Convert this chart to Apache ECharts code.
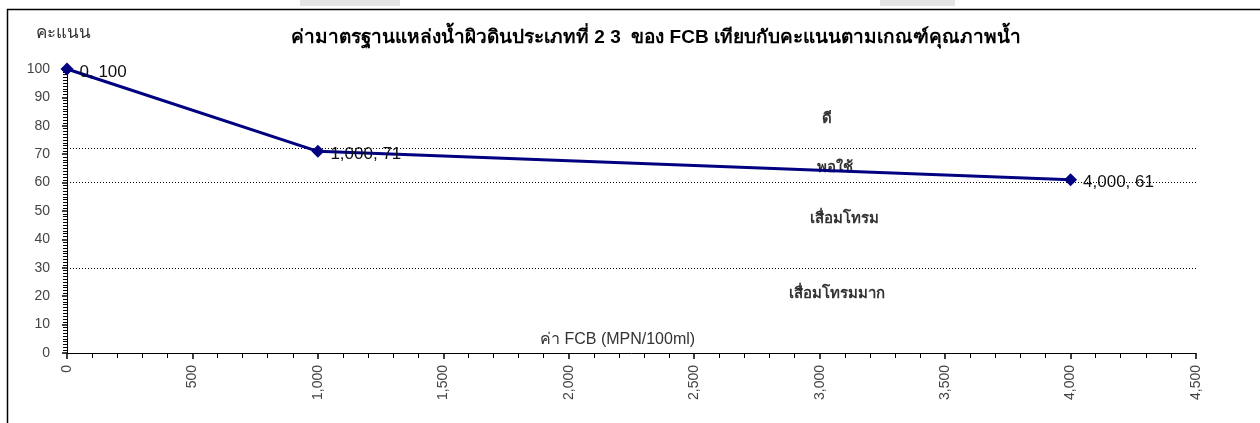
<!DOCTYPE html>
<html>
<head>
<meta charset="utf-8">
<script src="https://cdn.jsdelivr.net/npm/echarts@6/dist/echarts.min.js"></script>
<style>
  html, body { margin: 0; padding: 0; background: #fff; }
  #main { width: 1260px; height: 423px; }
</style>
</head>
<body>
<div id="main"></div>
<script>
  // data
  let fcbValues = [0, 1000, 4000]
  let scores = [100, 71, 61]
  let thresholds = [72, 60, 30]
  let bandNames = ['ดี', 'พอใช้', 'เสื่อมโทรม', 'เสื่อมโทรมมาก']
  let bandY = [82.5, 65.3, 47.4, 21]
  let bandX = [3030, 3060, 3100, 3070]

  let font = 'Tahoma, "Liberation Sans", "Noto Sans", sans-serif'
  let chart = echarts.init(document.getElementById('main'))

  let points = fcbValues.map(function (x, i) { return [x, scores[i]] })
  let bands = bandNames.map(function (n, i) { return { name: n, value: [bandX[i], bandY[i]] } })

  chart.setOption({
    animation: false,
    textStyle: { fontFamily: font },
    title: {
      text: 'ค่ามาตรฐานแหล่งน้ำผิวดินประเภทที่ 2 3  ของ FCB เทียบกับคะแนนตามเกณฑ์คุณภาพน้ำ',
      left: 651,
      top: 23,
      textAlign: 'center',
      textStyle: { fontSize: 19, fontWeight: 'bold', color: '#000', fontFamily: font }
    },
    grid: { left: 67, right: 64, top: 69, bottom: 70 },
    xAxis: {
      type: 'value',
      min: 0,
      max: 4500,
      interval: 500,
      axisLine: { lineStyle: { color: '#000', width: 1 } },
      axisTick: { length: 6, lineStyle: { color: '#000', width: 1.5 } },
      minorTick: { show: true, splitNumber: 5, length: 5, lineStyle: { color: '#000', width: 1 } },
      splitLine: { show: false },
      axisLabel: {
        rotate: 90,
        margin: 12,
        fontSize: 14,
        color: '#444',
        formatter: function (v) { return v.toLocaleString('en-US') }
      }
    },
    yAxis: {
      type: 'value',
      min: 0,
      max: 100,
      interval: 10,
      name: 'คะแนน',
      nameLocation: 'end',
      nameGap: 27,
      nameTextStyle: { fontSize: 17, color: '#333', align: 'center', padding: [0, 8, 0, 0] },
      axisLine: { show: true, lineStyle: { color: '#000', width: 1 } },
      axisTick: { show: true, length: 5, lineStyle: { color: '#000', width: 1.5 } },
      minorTick: { show: true, splitNumber: 10, length: 4, lineStyle: { color: '#000', width: 1 } },
      splitLine: { show: false },
      axisLabel: { margin: 17, fontSize: 14, color: '#444' }
    },
    series: [
      {
        type: 'line',
        data: points,
        lineStyle: { color: '#000080', width: 3 },
        itemStyle: { color: '#000080' },
        symbol: 'diamond',
        symbolSize: 13,
        z: 5,
        label: {
          show: true,
          position: 'right',
          distance: 6,
          offset: [0, 3],
          fontSize: 17,
          color: '#111',
          formatter: function (p) {
            return p.value[0].toLocaleString('en-US') + ', ' + p.value[1]
          }
        },
        markLine: {
          silent: true,
          symbol: 'none',
          label: { show: false },
          lineStyle: { color: '#000', type: [1, 2], width: 1 },
          data: thresholds.map(function (t) { return { yAxis: t } })
        }
      },
      {
        type: 'scatter',
        data: bands,
        symbolSize: 0,
        silent: true,
        label: {
          show: true,
          position: 'inside',
          fontSize: 15,
          fontWeight: 'bold',
          color: '#000',
          formatter: '{b}'
        }
      }
    ],
    graphic: [
      { type: 'rect', shape: { x: 300, y: 0, width: 100, height: 6 }, style: { fill: '#e4e4e4' }, silent: true },
      { type: 'rect', shape: { x: 880, y: 0, width: 75, height: 6 }, style: { fill: '#e4e4e4' }, silent: true },
      { type: 'line', shape: { x1: 7, y1: 9.5, x2: 1260, y2: 9.5 }, style: { stroke: '#000', lineWidth: 1.5 }, silent: true },
      { type: 'line', shape: { x1: 7.5, y1: 9, x2: 7.5, y2: 423 }, style: { stroke: '#000', lineWidth: 1.5 }, silent: true },
      {
        type: 'text',
        left: 540,
        top: 332,
        silent: true,
        style: { text: 'ค่า FCB (MPN/100ml)', fontSize: 16, fill: '#333', fontFamily: font }
      }
    ]
  })
</script>
</body>
</html>
